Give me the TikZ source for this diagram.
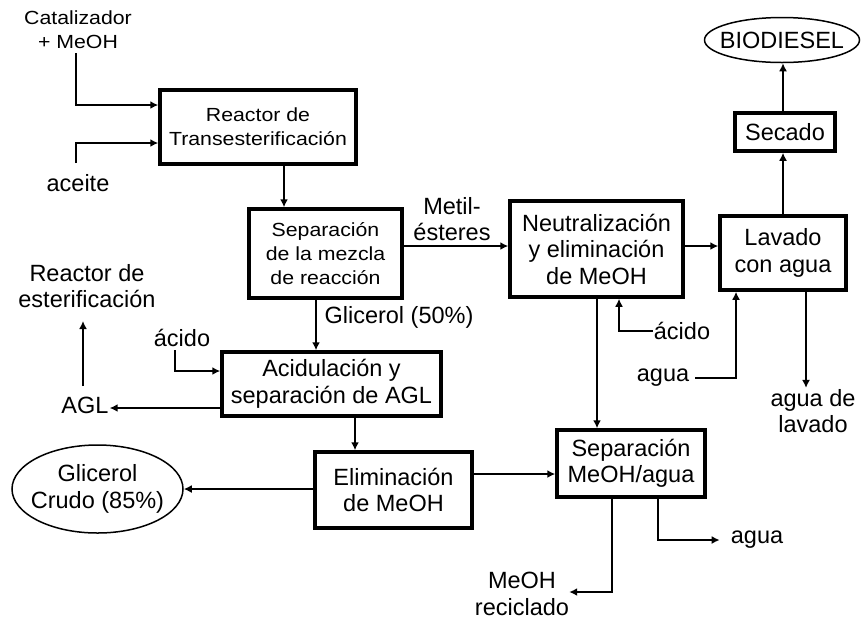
\documentclass[tikz,border=0pt]{standalone}
\usepackage{fontspec}
\setmainfont{Liberation Sans}
\newfontfamily\smallfam{Liberation Sans}[FakeStretch=1.12]
\usetikzlibrary{arrows.meta,shapes.geometric}
\newcommand\nf{\fontsize{23.5}{26.5}\selectfont}
\newcommand\smf{\smallfam\fontsize{19}{24}\selectfont}
\begin{document}
\begin{tikzpicture}[x=1pt,y=-1pt,
 box/.style={draw,line width=3.5pt,inner sep=0pt,align=center,font=\nf},
 lab/.style={inner sep=1pt,align=center,font=\nf},
 arr/.style={line width=1.7pt,-{Latex[length=8pt,width=8pt]}},
 ell/.style={draw,ellipse,line width=1.5pt,inner sep=0pt}]
\useasboundingbox[fill=white] (0,0) rectangle (861,622);
% boxes
\node[box,minimum width=196pt,minimum height=74pt,font=\smf] (reactor) at (258,127) {Reactor de\\Transesterificación};
\node[box,minimum width=153pt,minimum height=89pt,font=\smf] (sepmez) at (325.5,253.5) {Separación\\de la mezcla\\de reacción};
\node[box,minimum width=173pt,minimum height=96pt] (neutral) at (596.5,249) {Neutralización\\y eliminación\\de MeOH};
\node[box,minimum width=126pt,minimum height=74pt] (lavado) at (783,253) {Lavado\\con agua};
\node[box,minimum width=100pt,minimum height=38pt] (secado) at (785,132) {Secado};
\node[ell,minimum width=155pt,minimum height=45pt] (bio) at (782,40) {};
\node[lab] (biotext) at (bio) {BIODIESEL};
\node[box,minimum width=219pt,minimum height=64pt] (acid) at (331.5,384) {Acidulación y\\separación de AGL};
\node[box,minimum width=157pt,minimum height=76pt] (elim) at (393.5,490) {Eliminación\\de MeOH};
\node[ell,minimum width=171pt,minimum height=88pt] (gly) at (97.5,489) {};
\node[lab] (glytext) at (gly) {Glicerol\\Crudo (85\%)};
\node[box,minimum width=148pt,minimum height=67pt] (sepagua) at (631,463.5) {Separación\\MeOH/agua};
% labels
\node[lab,font=\smf] (cat) at (78,30) {Catalizador\\+ MeOH};
\node[lab] (aceite) at (78,183) {aceite};
\node[lab] (metil) at (452,219) {Metil-\\ésteres};
\node[lab] (glic50) at (399,317) {Glicerol (50\%)};
\node[lab] (reacest) at (87,286) {Reactor de\\esterificación};
\node[lab] (acido1) at (182,338) {ácido};
\node[lab] (agl) at (85,405) {AGL};
\node[lab] (acido2) at (682,331) {ácido};
\node[lab,inner xsep=6pt] (agua1) at (663,378) {agua};
\node[lab] (aguadel) at (813,411) {agua de\\lavado};
\node[lab,inner xsep=11pt] (agua2) at (757,540) {agua};
\node[lab,inner sep=0pt] (meohrec) at (522,594) {MeOH\\reciclado};
% coordinates
\coordinate (c1) at (76,53);
\coordinate (c2) at (76,163);
\coordinate (c3) at (175,350);
\coordinate (c4) at (83,386);
\coordinate (c5) at (83,321);
% connectors
\draw[arr] (c1) |- (reactor.west |- 0,105);
\draw[arr] (c2) |- (reactor.west |- 0,143);
\draw[arr] (reactor.south -| 284,0) -- (sepmez.north -| 284,0);
\draw[arr] (sepmez.east |- 0,246) -- (neutral.west |- 0,246);
\draw[arr] (neutral.east |- 0,246) -- (lavado.west |- 0,246);
\draw[arr] (lavado.north -| 783,0) -- (secado.south -| 783,0);
\draw[arr] (secado.north -| 783,0) -- (bio.south -| 783,0);
\draw[arr] (sepmez.south -| 316,0) -- (acid.north -| 316,0);
\draw[arr] (c3) |- (acid.west |- 0,371);
\draw[arr] (acid.west |- 0,408) -- (agl.east |- 0,408);
\draw[arr] (c4) -- (c5);
\draw[arr] (acid.south -| 355,0) -- (elim.north -| 355,0);
\draw[arr] (elim.west |- 0,489) -- (gly.east |- 0,489);
\draw[arr] (elim.east |- 0,474) -- (sepagua.west |- 0,474);
\draw[arr] (neutral.south -| 597,0) -- (sepagua.north -| 597,0);
\draw[arr] (acido2.west) -| (neutral.south -| 619,0);
\draw[arr] (agua1.east) -| (lavado.south -| 736,0);
\draw[arr] (lavado.south -| 806,0) -- (aguadel.north -| 806,0);
\draw[arr] (sepagua.south -| 658,0) |- (agua2.west);
\draw[arr] (sepagua.south -| 612,0) |- (meohrec.east |- 0,592);
\end{tikzpicture}
\end{document}
